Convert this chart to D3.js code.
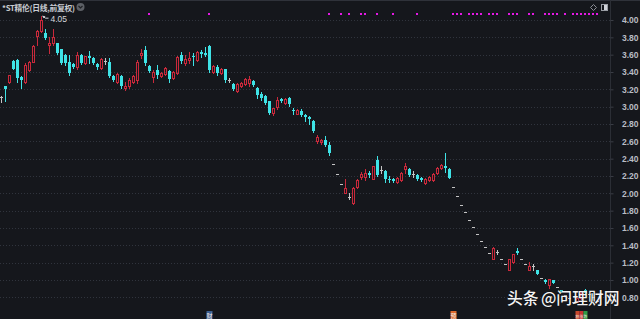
<!DOCTYPE html>
<html><head><meta charset="utf-8">
<script src="https://cdn.jsdelivr.net/npm/d3@7/dist/d3.min.js"></script>
<style>html,body{margin:0;padding:0;background:#15171c;overflow:hidden}</style>
</head><body><svg id="c" width="640" height="319"></svg>
<script>
// ---- data (daily OHLC, index = trading day) ----
const opens  = [3.11,3.24,3.28,3.53,3.54,3.34,3.29,3.42,3.52,3.81,3.87,3.85,3.71,3.73,3.73,3.66,3.60,3.52,3.49,3.46,
 3.60,3.50,3.58,3.56,3.49,3.45,3.53,3.52,3.35,3.28,3.35,3.22,3.24,3.28,3.31,3.60,3.65,3.47,3.34,3.42,
 3.35,3.38,3.41,3.33,3.39,3.60,3.50,3.55,3.59,3.54,3.63,3.62,3.70,3.40,3.46,3.39,3.43,3.31,3.26,3.18,
 3.24,3.26,3.27,3.30,3.22,3.15,3.12,3.06,2.93,3.00,3.09,3.04,3.10,2.96,2.92,2.95,2.90,2.88,2.84,2.60,
 2.60,2.62,2.56,2.34,2.22,2.11,2.00,1.96,1.89,2.07,2.19,2.19,2.23,2.17,2.38,2.27,2.26,2.17,2.17,2.13,
 2.15,2.28,2.28,2.22,2.21,2.18,2.12,2.15,2.15,2.23,2.29,2.32,2.28,2.07,1.97,1.87,1.78,1.69,1.61,1.53,
 1.45,1.38,1.31,1.24,1.32,1.24,1.18,1.12,1.21,1.33,1.24,1.18,1.11,1.16,1.11,1.02,1.00,0.94,1.00,0.92,
 0.88,0.83,0.79,0.75,0.75,0.79,0.89,0.84,0.80,0.76];
const highs  = [3.12,3.24,3.37,3.54,3.55,3.35,3.50,3.53,3.71,3.88,4.05,3.90,3.80,3.90,3.74,3.67,3.61,3.60,3.50,3.63,
 3.61,3.59,3.64,3.57,3.50,3.56,3.56,3.56,3.36,3.39,3.36,3.29,3.33,3.36,3.54,3.67,3.70,3.48,3.42,3.48,
 3.40,3.46,3.42,3.41,3.58,3.63,3.60,3.63,3.62,3.64,3.65,3.69,3.71,3.48,3.48,3.45,3.44,3.33,3.27,3.27,
 3.28,3.33,3.35,3.31,3.23,3.17,3.13,3.07,2.99,3.11,3.10,3.10,3.11,2.98,2.97,2.97,2.91,2.89,2.85,2.67,
 2.63,2.66,2.59,2.34,2.22,2.11,2.17,2.00,2.07,2.16,2.25,2.28,2.26,2.32,2.43,2.31,2.27,2.20,2.18,2.19,
 2.25,2.35,2.29,2.26,2.22,2.19,2.18,2.20,2.23,2.30,2.34,2.46,2.29,2.07,1.97,1.87,1.78,1.69,1.61,1.53,
 1.45,1.38,1.31,1.38,1.35,1.24,1.18,1.24,1.30,1.37,1.24,1.18,1.21,1.19,1.11,1.02,1.01,1.01,1.00,0.92,
 0.88,0.83,0.79,0.75,0.79,0.86,0.90,0.84,0.80,0.76];
const lows   = [3.05,3.06,3.27,3.43,3.29,3.22,3.27,3.41,3.51,3.71,3.86,3.78,3.62,3.71,3.61,3.49,3.48,3.37,3.45,3.44,
 3.49,3.49,3.50,3.49,3.43,3.44,3.49,3.34,3.30,3.27,3.21,3.19,3.22,3.27,3.27,3.56,3.48,3.40,3.29,3.33,
 3.34,3.37,3.29,3.32,3.38,3.50,3.48,3.50,3.48,3.53,3.57,3.58,3.40,3.39,3.37,3.38,3.29,3.29,3.19,3.17,
 3.23,3.25,3.24,3.24,3.10,3.08,3.03,2.92,2.90,2.97,3.05,3.03,3.01,2.92,2.91,2.89,2.83,2.80,2.71,2.58,
 2.57,2.55,2.44,2.34,2.22,2.11,2.00,1.93,1.88,2.06,2.16,2.15,2.19,2.16,2.20,2.23,2.13,2.13,2.13,2.12,
 2.14,2.23,2.20,2.19,2.15,2.14,2.11,2.14,2.14,2.22,2.28,2.25,2.18,2.07,1.97,1.87,1.78,1.69,1.61,1.53,
 1.45,1.38,1.31,1.24,1.30,1.24,1.18,1.12,1.20,1.30,1.24,1.18,1.11,1.11,1.07,1.02,0.97,0.91,0.96,0.92,
 0.86,0.83,0.79,0.75,0.75,0.78,0.85,0.84,0.80,0.76];
const closes = [3.11,3.20,3.36,3.44,3.33,3.31,3.48,3.52,3.70,3.87,4.00,3.79,3.74,3.80,3.62,3.50,3.50,3.39,3.46,3.60,
 3.50,3.58,3.56,3.50,3.46,3.55,3.53,3.35,3.31,3.38,3.24,3.24,3.31,3.35,3.52,3.62,3.50,3.41,3.40,3.37,
 3.39,3.45,3.32,3.40,3.57,3.53,3.55,3.56,3.57,3.63,3.61,3.60,3.42,3.47,3.39,3.44,3.31,3.31,3.20,3.26,
 3.27,3.32,3.32,3.25,3.13,3.10,3.04,2.93,2.98,3.08,3.06,3.09,3.03,2.945,2.96,2.90,2.88,2.86,2.72,2.65,
 2.62,2.56,2.46,2.34,2.22,2.11,2.06,1.96,2.06,2.15,2.22,2.24,2.21,2.31,2.21,2.27,2.17,2.155,2.14,2.18,
 2.24,2.31,2.21,2.22,2.16,2.15,2.17,2.19,2.22,2.29,2.33,2.29,2.18,2.07,1.97,1.87,1.78,1.69,1.61,1.53,
 1.45,1.38,1.31,1.37,1.32,1.24,1.18,1.24,1.30,1.31,1.24,1.18,1.16,1.16,1.07,1.02,0.98,1.01,0.97,0.92,
 0.86,0.83,0.79,0.75,0.79,0.85,0.85,0.84,0.80,0.76];
const priceTicks = [4.00,3.80,3.60,3.40,3.20,3.00,2.80,2.60,2.40,2.20,2.00,1.80,1.60,1.40,1.20,1.00,0.80];
const markDays = [37,52,82,85,87,90,91,94,98,104,113,114,115,117,118,119,120,122,123,124,127,128,129,132,133,
 136,137,138,139,141,143,144,145,146,147,148,149];
const eventDays = [52,113,144,145,146];
const eventLabels = ["财","预","积","涨","跌"];
const title = "*ST精伦(日线,前复权)";
const maxLabel = "4.05";
const maxDay = 10;

// ---- drawing ----
const W = 640, H = 319;
const svg = d3.select('#c');
svg.append('rect').attr('width', W).attr('height', H).attr('fill', '#15171c');

const days = d3.range(opens.length);
const x = d3.scaleBand().domain(days).range([0, 4 * days.length]);
const y = d3.scaleLinear().domain([0.8, 4.0]).range([297.3, 20]);
const plotRight = 610;

// top border
svg.append('line').attr('x1', 0).attr('x2', W).attr('y1', 0.5).attr('y2', 0.5)
  .attr('stroke', '#2f323a');

// grid
svg.append('g').selectAll('line').data(priceTicks).join('line')
  .attr('x1', 0).attr('x2', plotRight)
  .attr('y1', d => Math.round(y(d)) + 0.5).attr('y2', d => Math.round(y(d)) + 0.5)
  .attr('stroke', '#30343d').attr('stroke-dasharray', '1,2');

// separator
svg.append('line').attr('x1', plotRight + 0.5).attr('x2', plotRight + 0.5)
  .attr('y1', 0).attr('y2', H).attr('stroke', '#2b2e35');

// axis
const ax = svg.append('g').attr('transform', `translate(${plotRight + 0.5},0)`)
  .call(d3.axisRight(y).tickValues(priceTicks).tickSize(3).tickFormat(d => d.toFixed(2)));
ax.select('.domain').remove();
ax.selectAll('.tick line').attr('stroke', '#3a3d45');
ax.selectAll('.tick text').attr('x', 28).attr('text-anchor', 'end')
  .attr('fill', '#b9bdc5').attr('font-size', '8.5px')
  .attr('font-family', 'Liberation Sans, Arial, sans-serif').attr('font-weight', 'bold');

// candles
const RED = '#c9293b', CYAN = '#3fe3e6', GREY = '#c4c4c4';
const cg = svg.append('g').attr('shape-rendering', 'crispEdges');
days.forEach(i => {
  const o = opens[i], c = closes[i], h = highs[i], l = lows[i];
  const x0 = x(i), cx = x0 + 1.5;
  const yh = Math.round(y(h)), yl = Math.round(y(l));
  const yo = Math.round(y(o)), yc = Math.round(y(c));
  if (o === c) {
    if (h !== l) cg.append('line').attr('x1', cx).attr('x2', cx).attr('y1', yh).attr('y2', yl + 1).attr('stroke', GREY);
    cg.append('rect').attr('x', x0).attr('y', yo).attr('width', 3).attr('height', 1).attr('fill', GREY);
  } else if (c > o) {
    const top = yc, bot = Math.max(yo, yc + 2);
    if (yh < top) cg.append('line').attr('x1', cx).attr('x2', cx).attr('y1', yh).attr('y2', top).attr('stroke', RED);
    if (yl > bot) cg.append('line').attr('x1', cx).attr('x2', cx).attr('y1', bot).attr('y2', yl + 1).attr('stroke', RED);
    cg.append('rect').attr('x', x0 + 0.5).attr('y', top + 0.5).attr('width', 2).attr('height', bot - top)
      .attr('fill', 'none').attr('stroke', RED);
  } else {
    cg.append('line').attr('x1', cx).attr('x2', cx).attr('y1', yh).attr('y2', yl + 1).attr('stroke', CYAN);
    cg.append('rect').attr('x', x0).attr('y', yo).attr('width', 3).attr('height', Math.max(1, yc - yo))
      .attr('fill', CYAN);
  }
});

// magenta markers
svg.append('g').selectAll('rect').data(markDays).join('rect')
  .attr('x', d => x(d)).attr('y', 13).attr('width', 2).attr('height', 2).attr('fill', '#e419e4');

// max label
const mx = x(maxDay) + 1.5, my = y(highs[maxDay]);
svg.append('path').attr('d', `M${mx + 1},${my + 0.5} L${mx + 4},${my + 2.5} L${mx + 7},${my + 2.5}`)
  .attr('stroke', '#cfd2d8').attr('fill', 'none');
svg.append('path').attr('d', `M${mx + 1},${my} l3,0.5 l-2,2 z`).attr('fill', '#cfd2d8');
svg.append('text').attr('x', mx + 9).attr('y', my + 6).text(maxLabel)
  .attr('fill', '#d4d6db').attr('font-size', '8.5px').attr('font-family', 'Liberation Sans, Arial, sans-serif');

// title
svg.append('text').attr('x', 2).attr('y', 11).text(title)
  .attr('fill', '#c8cbd1').attr('font-size', '7.8px').attr('letter-spacing', '-0.3px').attr('font-weight', 'bold')
  .attr('font-family', 'Noto Sans CJK SC, sans-serif');
svg.append('circle').attr('cx', 80.5).attr('cy', 7).attr('r', 4).attr('fill', '#5d6066');
svg.append('path').attr('d', 'M78.5,6 L80.5,8 L82.5,6').attr('stroke', '#202226').attr('fill', 'none').attr('stroke-width', 1.2);

// top-right icons
svg.append('path').attr('d', 'M593.5,4.5 L596.5,7.5 L593.5,10.5 L590.5,7.5 Z').attr('fill', 'none').attr('stroke', '#8a8d94');
svg.append('rect').attr('x', 601.5).attr('y', 4.5).attr('width', 6).attr('height', 6).attr('fill', 'none').attr('stroke', '#9a9da4');
svg.append('rect').attr('x', 604).attr('y', 5).attr('width', 3).attr('height', 5).attr('fill', '#cfd2d8');

// bottom event markers
const evColor = {"财": '#3b5f93', "预": '#df6a2c', "积": '#c8482e', "涨": '#c83232', "跌": '#2f9a45'};
const eg = svg.append('g');
eventDays.forEach((d, k) => {
  const lab = eventLabels[k];
  const wide = (lab === '财' || lab === '预');
  const bw = wide ? 6 : 4;
  eg.append('rect').attr('x', x(d) + 1.5 - bw / 2).attr('y', 311).attr('width', bw).attr('height', 8)
    .attr('fill', evColor[lab]);
  eg.append('text').attr('x', x(d) + 1.5).attr('y', 317.5)
    .attr('text-anchor', 'middle').attr('font-size', wide ? '6px' : '3.8px').attr('fill', '#f3e9e0')
    .attr('font-family', 'Noto Sans CJK SC, sans-serif').text(lab);
});

// watermark
const wm = svg.append('g').attr('font-family', 'Noto Sans CJK SC, sans-serif').attr('font-size', '15.8px')
  .attr('font-weight', 500).attr('fill', '#f4f4f4')
  .attr('stroke', 'rgba(0,0,0,0.35)').attr('stroke-width', 1.2).attr('paint-order', 'stroke');
wm.append('text').attr('x', 507).attr('y', 304).text('头条');
wm.append('text').attr('x', 541).attr('y', 304).text('@问理财网');
</script></body></html>
